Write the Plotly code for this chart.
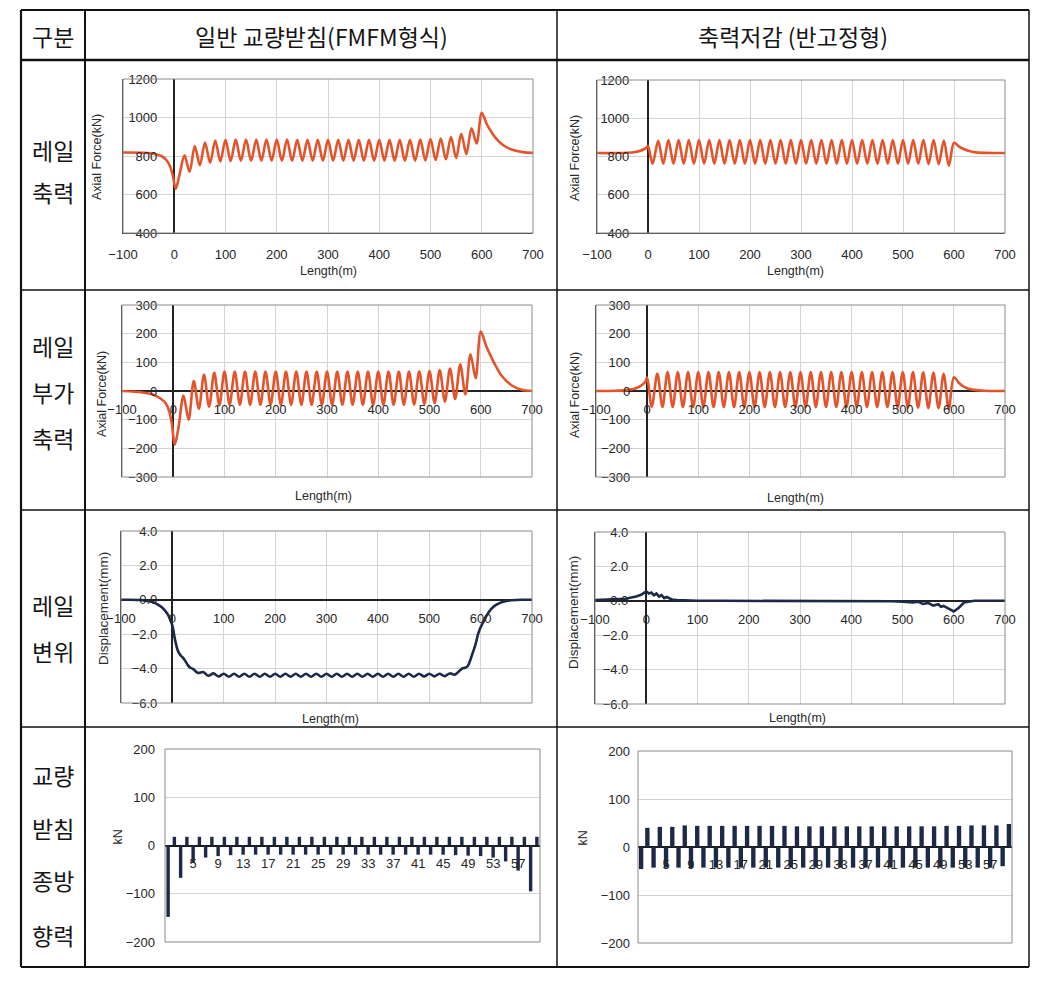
import plotly.graph_objects as go

# ---------------- DATA ----------------
# Row 1/2 left (FMFM type): rail axial force and additional axial force
X_FMFM = [-100, -60, -40, -25, -15, -8, -3, 3, 10,
          20, 30, 40, 50, 60, 70, 80, 90, 100, 110, 120, 130, 140, 150, 160, 170, 180, 190,
          200, 210, 220, 230, 240, 250, 260, 270, 280, 290, 300, 310, 320, 330, 340, 350,
          360, 370, 380, 390, 400, 410, 420, 430, 440, 450, 460, 470, 480, 490, 500, 510,
          520, 530, 540, 550, 560, 570, 580, 590, 600,
          610, 620, 630, 640, 660, 680, 700]
AXIAL_FMFM = [818, 817, 812, 800, 778, 745, 700, 630, 700,
              803, 718, 852, 752, 870, 765, 880, 772, 884, 774, 885, 775, 885, 775, 885, 775, 886, 775,
              885, 775, 885, 775, 884, 775, 884, 775, 884, 775, 884, 775, 884, 775, 884, 775,
              884, 775, 884, 775, 884, 775, 884, 775, 884, 775, 884, 776, 886, 777, 888, 779,
              891, 783, 898, 790, 915, 810, 944, 865, 1025,
              965, 920, 885, 860, 832, 820, 816]
ADD_FMFM = [0, -5, -12, -26, -42, -70, -110, -188, -130,
            -16, -100, 35, -62, 57, -55, 64, -50, 68, -48, 68, -48, 68, -48, 68, -48, 68, -48,
            68, -48, 68, -48, 68, -48, 68, -48, 68, -48, 68, -48, 68, -48, 68, -48,
            68, -48, 68, -48, 68, -48, 68, -48, 68, -48, 68, -47, 69, -45, 70, -42,
            73, -37, 78, -28, 93, -12, 128, 45, 207,
            160, 120, 85, 55, 20, 4, 0]

# Row 1/2 right (reduced axial force type)
X_RED = [-100, -60, -40, -25, -15, -8, -3, 0, 9,
         20, 30, 40, 50, 60, 70, 80, 90, 100, 110, 120, 130, 140, 150, 160, 170, 180, 190,
         200, 210, 220, 230, 240, 250, 260, 270, 280, 290, 300, 310, 320, 330, 340, 350,
         360, 370, 380, 390, 400, 410, 420, 430, 440, 450, 460, 470, 480, 490, 500, 510,
         520, 530, 540, 550, 560, 570, 580, 590, 600,
         610, 620, 630, 640, 660, 680, 700]
AXIAL_RED = [818, 818, 820, 824, 830, 838, 846, 856, 762,
             882, 762, 886, 762, 886, 762, 886, 762, 886, 762, 886, 762, 886, 762, 886, 762, 886, 762,
             886, 762, 886, 762, 886, 762, 886, 762, 886, 762, 886, 762, 886, 762, 886, 762,
             886, 762, 886, 762, 886, 762, 886, 762, 886, 762, 886, 762, 886, 762, 886, 762,
             886, 762, 886, 760, 886, 760, 884, 752, 872,
             852, 838, 829, 823, 819, 818, 818]
ADD_RED = [0, 1, 3, 8, 15, 24, 34, 48, -55,
           61, -56, 66, -56, 66, -56, 66, -56, 66, -56, 66, -56, 66, -56, 66, -56, 66, -56,
           66, -56, 66, -56, 66, -56, 66, -56, 66, -56, 66, -56, 66, -56, 66, -56,
           66, -56, 66, -56, 66, -56, 66, -56, 66, -56, 66, -56, 66, -57, 66, -58,
           66, -58, 65, -60, 64, -60, 60, -62, 48,
           28, 14, 7, 4, 1, 0, 0]

# Row 3 left: rail displacement (FMFM)
X_DISP_FMFM = [-100, -60, -40, -30, -20, -10, -5, 0, 5, 10, 15, 20, 25, 30, 35, 40,
               50, 60, 70, 80, 90, 100, 110, 120, 130, 140, 150, 160, 170, 180, 190, 200,
               210, 220, 230, 240, 250, 260, 270, 280, 290, 300, 310, 320, 330, 340, 350,
               360, 370, 380, 390, 400, 410, 420, 430, 440, 450, 460, 470, 480, 490, 500,
               510, 520, 530, 540, 550,
               560, 565, 570, 575, 580, 585, 590, 595, 600, 605, 610, 620, 630, 640, 650, 660, 680, 700]
DISP_FMFM = [0.0, -0.02, -0.12, -0.25, -0.45, -0.8, -1.1, -1.5, -2.3, -2.9, -3.2, -3.35, -3.55, -3.8, -3.95, -4.02,
             -4.25, -4.2, -4.42, -4.28, -4.46, -4.3, -4.47, -4.3, -4.47, -4.3, -4.47, -4.3, -4.47, -4.3, -4.47, -4.3,
             -4.47, -4.3, -4.47, -4.3, -4.47, -4.3, -4.47, -4.3, -4.47, -4.3, -4.47, -4.3, -4.47, -4.3, -4.47,
             -4.3, -4.47, -4.3, -4.47, -4.3, -4.47, -4.3, -4.47, -4.3, -4.47, -4.3, -4.47, -4.3, -4.46, -4.3,
             -4.45, -4.3, -4.44, -4.28, -4.35,
             -4.1, -3.98, -3.95, -3.85, -3.5, -3.05, -2.6, -2.0, -1.6, -1.3, -1.0, -0.55, -0.3, -0.15, -0.07, -0.03, 0.0, 0.0]

# Row 3 right: rail displacement (reduced type)
X_DISP_RED = [-100, -60, -40, -20, -10, 0, 5, 10, 15, 20, 25, 30, 35, 40, 50, 60, 80, 100, 150, 200,
              300, 400, 480, 500, 520, 530, 540, 550, 560, 570, 575, 580, 590, 600, 610, 620, 640, 700]
DISP_RED = [0.05, 0.08, 0.12, 0.25, 0.35, 0.55, 0.42, 0.48, 0.32, 0.42, 0.25, 0.33, 0.15, 0.22, 0.08, 0.05, 0.02, 0.0, 0.0, 0.0,
            0.0, 0.0, -0.03, -0.05, -0.1, -0.05, -0.18, -0.12, -0.28, -0.2, -0.35, -0.3, -0.45, -0.62, -0.4, -0.1, 0.0, 0.0]

# Row 4: bearing longitudinal forces
BEARING_NO = [1, 2, 3, 4, 5, 6, 7, 8, 9, 10, 11, 12, 13, 14, 15, 16, 17, 18, 19, 20,
              21, 22, 23, 24, 25, 26, 27, 28, 29, 30, 31, 32, 33, 34, 35, 36, 37, 38, 39, 40,
              41, 42, 43, 44, 45, 46, 47, 48, 49, 50, 51, 52, 53, 54, 55, 56, 57, 58, 59, 60]
BEARING_TICKS = [5, 9, 13, 17, 21, 25, 29, 33, 37, 41, 45, 49, 53, 57]
BEARING_FMFM = [-148, 18, -67, 18, -36, 18, -25, 18, -22, 18, -20, 18, -19, 18, -19, 18, -19, 18, -19, 18,
                -19, 18, -19, 18, -19, 18, -19, 18, -19, 18, -19, 18, -19, 18, -19, 18, -19, 18, -19, 18,
                -19, 18, -19, 18, -19, 18, -20, 18, -21, 18, -22, 18, -25, 18, -33, 18, -52, 18, -95, 18]
BEARING_RED = [-46, 40, -43, 42, -43, 42, -43, 45, -44, 44, -43, 44, -43, 44, -43, 44, -43, 44, -43, 44,
               -43, 44, -43, 44, -43, 43, -43, 43, -43, 43, -43, 43, -43, 43, -43, 43, -43, 43, -43, 43,
               -43, 43, -43, 43, -43, 43, -43, 43, -43, 44, -43, 44, -43, 45, -43, 45, -43, 45, -40, 48]

HEADERS = ["구분", "일반 교량받침(FMFM형식)", "축력저감 (반고정형)"]
ROW_LABELS = [["레일", "축력"], ["레일", "부가", "축력"], ["레일", "변위"], ["교량", "받침", "종방", "향력"]]

# ---------------- LAYOUT ----------------
W, H = 1046, 988
def fx(p):
    return p / W
def fy(p):
    return 1 - p / H

ORANGE = "#e4542c"
NAVY = "#1d2948"
TICKFONT = dict(family="Liberation Sans, Arial, sans-serif", size=13, color="#262626")
TITLEFONT = dict(family="Liberation Sans, Arial, sans-serif", size=12.5, color="#2a2a2a")
KFONT = dict(family="Noto Sans CJK KR", size=23, color="#151515")
GRID = "#d4d4d4"

fig = go.Figure()
layout = {}
shapes = []
annotations = []

line_charts = [
    dict(x=X_FMFM, y=AXIAL_FMFM, color=ORANGE, box=(123, 533, 79, 233), yr=[400, 1200], dt=200, fmt="d",
         free=False, so=-38, ytitle="Axial Force(kN)", yt=(97, 157), xt=(328, 271), shape="spline", ts=12.5),
    dict(x=X_RED, y=AXIAL_RED, color=ORANGE, box=(597, 1005, 80, 233), yr=[400, 1200], dt=200, fmt="d",
         free=False, so=-36, ytitle="Axial Force(kN)", yt=(575, 158), xt=(795, 271), shape="spline", ts=12.5),
    dict(x=X_FMFM, y=ADD_FMFM, color=ORANGE, box=(122, 532, 305, 477), yr=[-300, 300], dt=100, fmt="d",
         free=True, so=-39, ytitle="Axial Force(kN)", yt=(102, 394), xt=(323, 496), shape="spline", ts=12.5),
    dict(x=X_RED, y=ADD_RED, color=ORANGE, box=(596, 1005, 305, 477), yr=[-300, 300], dt=100, fmt="d",
         free=True, so=-38, ytitle="Axial Force(kN)", yt=(575, 395), xt=(795, 498), shape="spline", ts=12.5),
    dict(x=X_DISP_FMFM, y=DISP_FMFM, color=NAVY, box=(121, 532, 531, 703), yr=[-6, 4], dt=2, fmt=".1f",
         free=True, so=-40, ytitle="Displacement(mm)", yt=(103, 609), xt=(330, 719), shape="spline", ts=13.5),
    dict(x=X_DISP_RED, y=DISP_RED, color=NAVY, box=(595, 1005, 532, 704), yr=[-6, 4], dt=2, fmt=".1f",
         free=True, so=-37, ytitle="Displacement(mm)", yt=(573, 613), xt=(797, 718), shape="linear", ts=13.5),
]

def axkey(kind, i):
    return kind if i == 1 else f"{kind}{i}"

def axref(kind, i):
    return kind if i == 1 else f"{kind}{i}"

for n, c in enumerate(line_charts, start=1):
    L, R, T, B = c["box"]
    ydom = [fy(B), fy(T)]
    xr, yr = axref("x", n), axref("y", n)
    fig.add_trace(go.Scatter(x=c["x"], y=c["y"], mode="lines",
                             line=dict(color=c["color"], width=2.6, shape=c["shape"], smoothing=0.9),
                             xaxis=xr, yaxis=yr, showlegend=False, hoverinfo="skip"))
    xa = dict(domain=[fx(L), fx(R)], range=[-100, 700], dtick=100, tick0=0, showgrid=True,
              gridcolor=GRID, gridwidth=1, zeroline=True, zerolinecolor="#222222", zerolinewidth=1.5,
              ticks="", tickfont=TICKFONT, ticklabelstandoff=9, fixedrange=True, automargin=False)
    if c["free"]:
        frac = (0 - c["yr"][0]) / (c["yr"][1] - c["yr"][0])
        xa.update(anchor="free", position=ydom[0] + frac * (ydom[1] - ydom[0]), showline=False)
    else:
        xa.update(anchor=yr, showline=True, linecolor="#333333", linewidth=1.2)
    ya = dict(domain=ydom, range=c["yr"], dtick=c["dt"], showgrid=True, gridcolor=GRID, gridwidth=1,
              zeroline=True, zerolinecolor="#222222", zerolinewidth=1.5, showline=True,
              linecolor="#333333", linewidth=1.2, anchor=xr, ticks="", tickfont=TICKFONT,
              tickformat=c["fmt"], ticklabelstandoff=c["so"], fixedrange=True, automargin=False)
    layout[axkey("xaxis", n)] = xa
    layout[axkey("yaxis", n)] = ya
    shapes.append(dict(type="rect", xref=f"{xr} domain", yref=f"{yr} domain", x0=0, x1=1, y0=0, y1=1,
                       line=dict(color="#8a8a8a", width=1), layer="above"))
    annotations.append(dict(text=c["ytitle"], x=fx(c["yt"][0]), y=fy(c["yt"][1]), xref="paper", yref="paper",
                            textangle=-90, showarrow=False, font=dict(TITLEFONT, size=c["ts"]),
                            xanchor="center", yanchor="middle"))
    annotations.append(dict(text="Length(m)", x=fx(c["xt"][0]), y=fy(c["xt"][1]), xref="paper", yref="paper",
                            showarrow=False, font=TITLEFONT, xanchor="center", yanchor="middle"))

bar_charts = [
    dict(y=BEARING_FMFM, box=(165, 540, 749, 942), so=9, yt=(108, 847), width=0.55),
    dict(y=BEARING_RED, box=(638, 1012, 751, 943), so=7, yt=(582, 848), width=0.7),
]
for k, c in enumerate(bar_charts):
    n = 7 + k
    L, R, T, B = c["box"]
    ydom = [fy(B), fy(T)]
    xr, yr = axref("x", n), axref("y", n)
    fig.add_trace(go.Bar(x=BEARING_NO, y=c["y"], width=c["width"], marker=dict(color=NAVY, line=dict(width=0)),
                         xaxis=xr, yaxis=yr, showlegend=False, hoverinfo="skip"))
    layout[axkey("xaxis", n)] = dict(domain=[fx(L), fx(R)], range=[0.5, 60.5], tickvals=BEARING_TICKS,
                                     ticktext=[str(v) for v in BEARING_TICKS], showgrid=False,
                                     zeroline=False, showline=False, ticks="", tickfont=TICKFONT,
                                     anchor="free", position=(ydom[0] + ydom[1]) / 2,
                                     ticklabelstandoff=8, fixedrange=True, automargin=False)
    layout[axkey("yaxis", n)] = dict(domain=ydom, range=[-200, 200], dtick=100, showgrid=True,
                                     gridcolor=GRID, zeroline=True, zerolinecolor="#1a1a1a",
                                     zerolinewidth=2, showline=False, anchor=xr, ticks="",
                                     tickfont=TICKFONT, ticklabelstandoff=c["so"], fixedrange=True,
                                     automargin=False)
    shapes.append(dict(type="rect", xref=f"{xr} domain", yref=f"{yr} domain", x0=0, x1=1, y0=0, y1=1,
                       line=dict(color="#8a8a8a", width=1), layer="above"))
    annotations.append(dict(text="kN", x=fx(c["yt"][0]), y=fy(c["yt"][1]), xref="paper", yref="paper",
                            textangle=-90, showarrow=False, font=TITLEFONT))

# ---------------- TABLE ----------------
TL, TR, TT, TB = 21, 1029, 10, 967
COL1, COL2 = 85, 557
ROWS = [60, 290, 510, 727]
def pline(x0, y0, x1, y1, w):
    shapes.append(dict(type="line", xref="paper", yref="paper", x0=fx(x0), y0=fy(y0), x1=fx(x1), y1=fy(y1),
                       line=dict(color="#111111", width=w)))
pline(TL, TT, TR, TT, 2)
pline(TL, TB, TR, TB, 2)
pline(TL, TT, TL, TB, 2.2)
pline(TR, TT, TR, TB, 1.5)
pline(COL1, TT, COL1, TB, 2)
pline(COL2, TT, COL2, TB, 1.5)
pline(TL, ROWS[0], TR, ROWS[0], 2.5)
for r in ROWS[1:]:
    pline(TL, r, TR, r, 1.5)

header_x = [(TL + COL1) / 2, (COL1 + COL2) / 2, (COL2 + TR) / 2]
for hx, txt in zip(header_x, HEADERS):
    annotations.append(dict(text=txt, x=fx(hx), y=fy(36), xref="paper", yref="paper", showarrow=False,
                            font=KFONT, xanchor="center", yanchor="middle"))

label_rows_y = [[150, 192], [346, 392, 438], [605, 651], [775, 828, 880, 935]]
for labels, ys in zip(ROW_LABELS, label_rows_y):
    for txt, yy in zip(labels, ys):
        annotations.append(dict(text=txt, x=fx((TL + COL1) / 2), y=fy(yy), xref="paper", yref="paper",
                                showarrow=False, font=KFONT, xanchor="center", yanchor="middle"))

fig.update_layout(width=W, height=H, autosize=False, margin=dict(l=0, r=0, t=0, b=0, pad=0),
                  paper_bgcolor="white", plot_bgcolor="white", showlegend=False,
                  shapes=shapes, annotations=annotations, **layout)

fig.write_html("out.html", config={"displayModeBar": False},
               post_script="document.body.style.margin='0';document.body.style.overflow='hidden';")
